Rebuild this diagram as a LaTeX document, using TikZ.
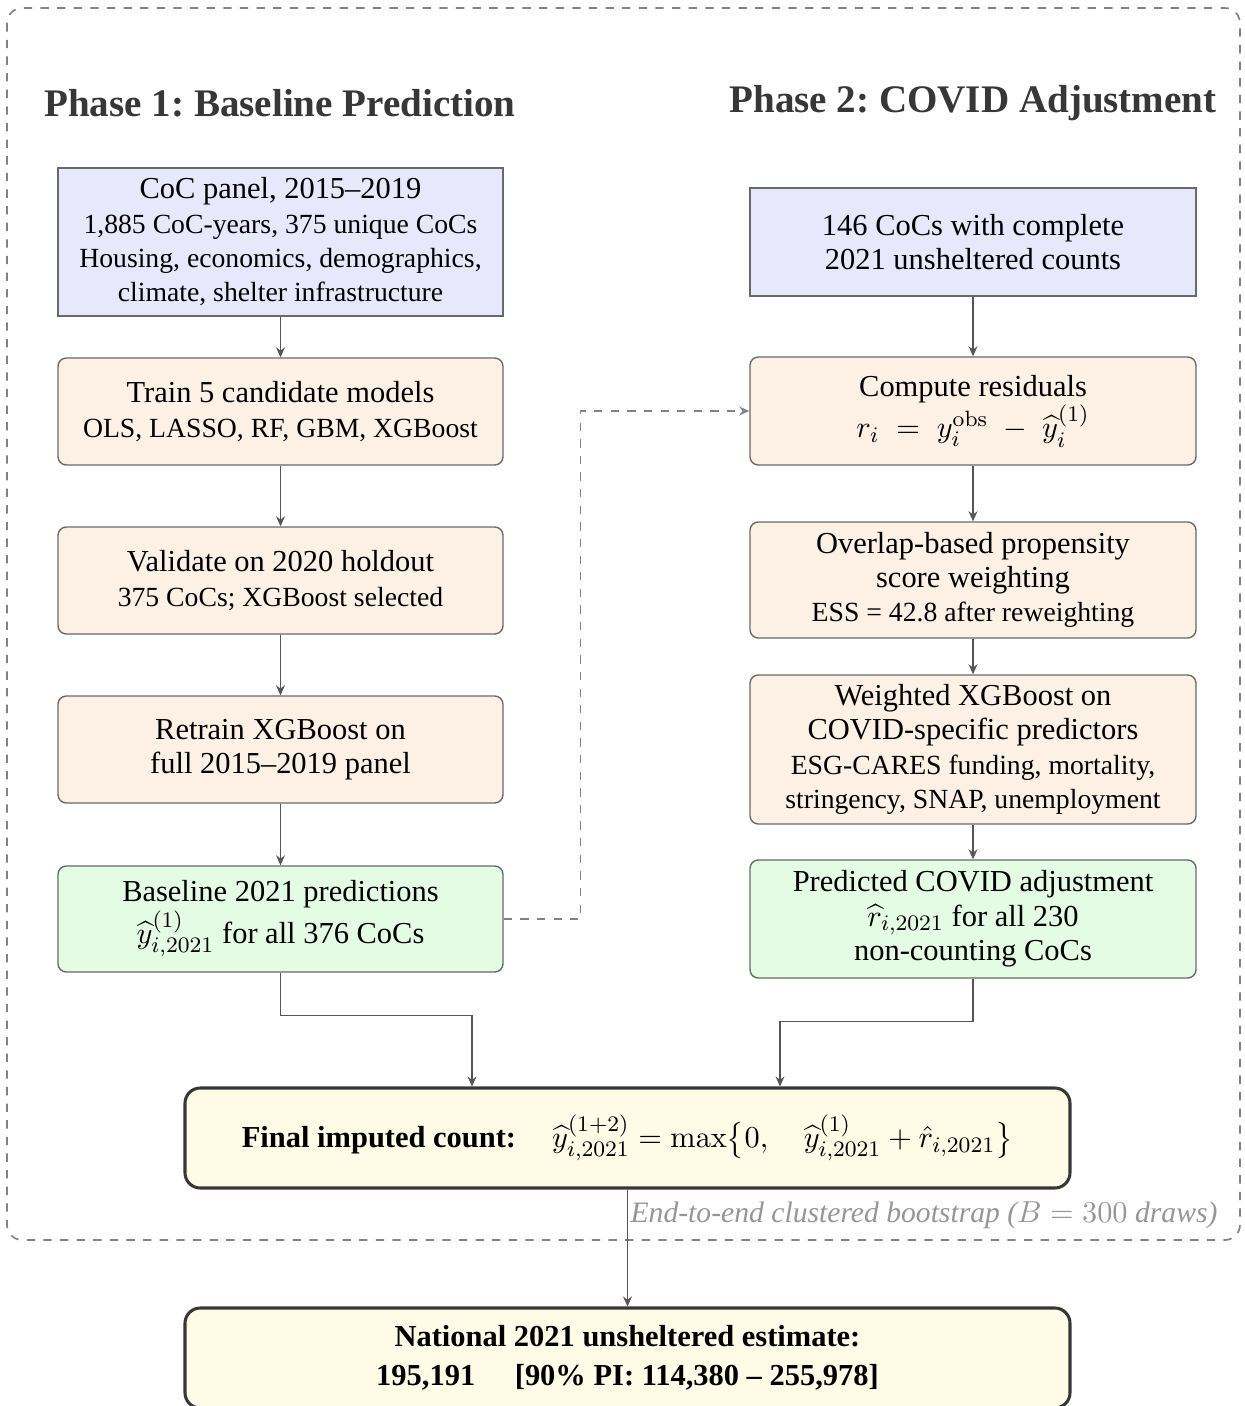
\documentclass[tikz,border=0pt]{standalone}
\usepackage{amsmath}
\usepackage[no-math]{fontspec}
\setmainfont{Liberation Serif}
\usetikzlibrary{arrows.meta,calc}
\definecolor{boxblue}{RGB}{232,232,252}
\definecolor{boxorange}{RGB}{253,241,229}
\definecolor{boxgreen}{RGB}{228,251,228}
\definecolor{boxyellow}{RGB}{254,252,230}
\definecolor{bordergray}{RGB}{105,105,105}
\definecolor{arrowgray}{RGB}{85,85,85}
\definecolor{dashgray}{RGB}{130,130,130}
\definecolor{titlegray}{RGB}{55,55,55}
\definecolor{labelgray}{RGB}{150,150,150}
\newcommand\nsz{\fontsize{11}{12.4}\selectfont}
\newcommand\ssz{\fontsize{10}{12.4}\selectfont}
\frenchspacing
\begin{document}
\begin{tikzpicture}[x=0.361pt,y=-0.361pt,
  box/.style={draw=bordergray, line width=0.5pt, align=center, inner sep=0pt,
    minimum width=445*0.361pt, font=\nsz},
  bluebox/.style={box, fill=boxblue},
  orbox/.style={box, fill=boxorange, rounded corners=3pt},
  grbox/.style={box, fill=boxgreen, rounded corners=3pt},
  bigbox/.style={draw=titlegray, line width=1.1pt, fill=boxyellow, rounded corners=5.5pt,
    align=center, inner sep=0pt, minimum width=885*0.361pt, font=\nsz},
  conn/.style={draw=arrowgray, line width=0.55pt, -{Stealth[length=3.6pt,width=3.2pt]}},
  dconn/.style={conn, dashed, draw=dashgray},
  phasetitle/.style={font=\fontsize{14.1}{17}\selectfont\bfseries, text=titlegray, inner sep=0pt}]
\useasboundingbox (0,0) rectangle (1244,1406);
\draw[dashgray, dashed, line width=0.6pt, rounded corners=5.5pt] (7,8) rectangle (1240,1240);

\node[phasetitle] (T1) at (280,103) {Phase 1: Baseline Prediction};
\node[phasetitle] (T2) at (973,103) {Phase 2: COVID Adjustment};

% Phase 1
\node[bluebox, minimum height=148*0.361pt] (A) at (280.5,242)
  {CoC panel, 2015--2019\\{\ssz 1,885 CoC-years, 375 unique CoCs}\\{\ssz Housing, economics, demographics,}\\{\ssz climate, shelter infrastructure}};
\node[orbox, minimum height=107*0.361pt] (B) at (280.5,411.5)
  {Train 5 candidate models\\{\ssz OLS, LASSO, RF, GBM, XGBoost}};
\node[orbox, minimum height=107*0.361pt] (C) at (280.5,580.5)
  {Validate on 2020 holdout\\{\ssz 375 CoCs; XGBoost selected}};
\node[orbox, minimum height=107*0.361pt] (D) at (280.5,749.5)
  {Retrain XGBoost on\\full 2015--2019 panel};
\node[grbox, minimum height=106*0.361pt] (E) at (280.5,919)
  {Baseline 2021 predictions\\$\widehat{y}^{(1)}_{i,2021}$ for all 376 CoCs};

% Phase 2
\node[bluebox, minimum width=446*0.361pt, minimum height=108*0.361pt] (F) at (973,242)
  {146 CoCs with complete\\2021 unsheltered counts};
\node[orbox, minimum width=446*0.361pt, minimum height=108*0.361pt] (G) at (973,411)
  {Compute residuals\\$r_i \;=\; y_i^{\mathrm{obs}} \;-\; \widehat{y}_i^{(1)}$};
\node[orbox, minimum width=446*0.361pt, minimum height=116*0.361pt] (H) at (973,580)
  {Overlap-based propensity\\score weighting\\{\ssz ESS = 42.8 after reweighting}};
\node[orbox, minimum width=446*0.361pt, minimum height=149*0.361pt] (I) at (973,749.5)
  {Weighted XGBoost on\\COVID-specific predictors\\{\ssz ESG-CARES funding, mortality,}\\{\ssz stringency, SNAP, unemployment}};
\node[grbox, minimum width=446*0.361pt, minimum height=118*0.361pt] (J) at (973,919)
  {Predicted COVID adjustment\\$\widehat{r}_{i,2021}$ for all 230\\non-counting CoCs};

% Final
\node[bigbox, minimum height=100*0.361pt] (Final) at (627.5,1138)
  {\textbf{Final imputed count:}\hspace{13pt}$\widehat{y}^{(1+2)}_{i,2021} = \max\bigl\{0,\quad \widehat{y}^{(1)}_{i,2021} + \hat{r}_{i,2021}\bigr\}$};
\node[bigbox, minimum height=100*0.361pt, font=\fontsize{11}{14}\selectfont\bfseries] (N) at (627.5,1358)
  {National 2021 unsheltered estimate:\\195,191\hspace{1.3em}[90\% PI: 114,380 -- 255,978]};

\node[anchor=east, inner sep=0pt, font=\fontsize{10.7}{12}\selectfont\itshape, text=labelgray] (boot) at (1218,1215)
  {End-to-end clustered bootstrap ($B = 300$ draws)};

% connectors
\draw[conn] (A) -- (B);
\draw[conn] (B) -- (C);
\draw[conn] (C) -- (D);
\draw[conn] (D) -- (E);
\draw[conn] (F) -- (G);
\draw[conn] (G) -- (H);
\draw[conn] (H) -- (I);
\draw[conn] (I) -- (J);
\draw[dconn] (E.east) -- ++(77,0) |- (G.west);
\draw[conn] (E.south) -- ++(0,43) -| ($(Final.north)+(-155.5,0)$);
\draw[conn] (J.south) -- ++(0,43) -| ($(Final.north)+(152.5,0)$);
\draw[conn] (Final) -- (N);
\end{tikzpicture}
\end{document}
